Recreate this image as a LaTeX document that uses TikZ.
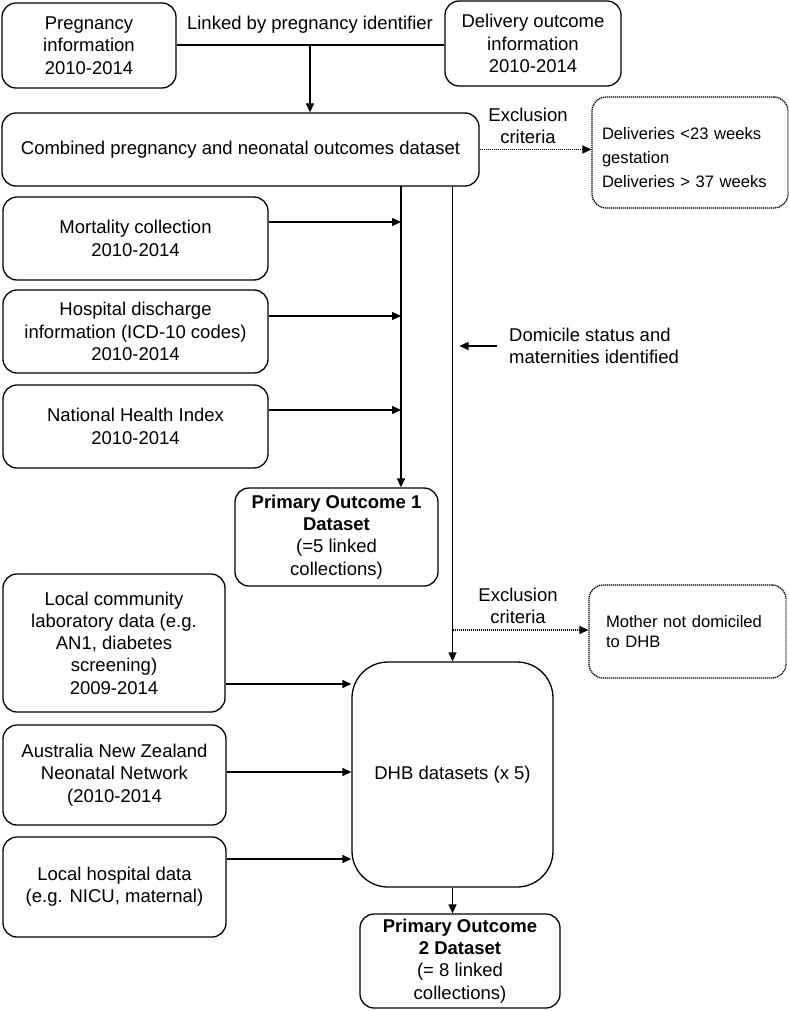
\documentclass[tikz,border=0pt]{standalone}
\usepackage{fontspec}
\setmainfont{Liberation Sans}
\usetikzlibrary{arrows.meta}
\begin{document}
\begin{tikzpicture}[x=1pt,y=-1pt,
  every node/.style={font=\fontsize{18.5}{22.3}\selectfont},
  box/.style={draw,line width=1.3pt,rounded corners=14pt,align=center,inner sep=0pt},
  dbox/.style={draw,line width=1.3pt,dash pattern=on 1.2pt off 0.8pt,rounded corners=14pt,align=left,inner sep=0pt},
  conn/.style={line width=1.3pt},
  arr/.style={line width=1.3pt,-{Triangle[length=9pt,width=8pt]}},
  darr/.style={line width=1.3pt,dash pattern=on 1.2pt off 0.8pt,-{Triangle[length=9pt,width=8pt]}},
  lbl/.style={align=center,inner sep=0pt}]
\useasboundingbox (0,0) rectangle (789,1011);
% boxes
\node[box,minimum width=174pt,minimum height=85pt] (preg) at (89,45.5) {Pregnancy\\information\\2010-2014};
\node[box,minimum width=176pt,minimum height=85pt] (deliv) at (533,43.5) {Delivery outcome\\information\\2010-2014};
\node[box,minimum width=477pt,minimum height=73pt] (comb) at (240.5,149.5) {Combined pregnancy and neonatal outcomes dataset};
\node[dbox,minimum width=196pt,minimum height=111pt,text width=176pt,font=\fontsize{16.6}{24}\selectfont] (excl1) at (690,152.5) {\rule{0pt}{22pt}Deliveries <23 weeks\\gestation\\Deliveries > 37 weeks};
\node[box,minimum width=265pt,minimum height=83pt] (mort) at (135.5,238.5) {Mortality collection\\2010-2014};
\node[box,minimum width=265pt,minimum height=83pt] (hosp) at (135.5,331.5) {Hospital discharge\\information (ICD-10 codes)\\2010-2014};
\node[box,minimum width=265pt,minimum height=83pt] (nhi) at (135.5,426.5) {National Health Index\\2010-2014};
\node[box,minimum width=203pt,minimum height=98pt] (po1) at (336.5,537) {\textbf{Primary Outcome 1}\\\textbf{Dataset}\\(=5 linked\\collections)};
\node[box,minimum width=222pt,minimum height=138pt] (local) at (114,643) {Local community\\laboratory data (e.g.\\AN1, diabetes\\screening)\\2009-2014};
\node[box,minimum width=223pt,minimum height=100pt] (aus) at (114.5,775) {Australia New Zealand\\Neonatal Network\\(2010-2014};
\node[box,minimum width=223pt,minimum height=100pt] (lhosp) at (114.5,887) {Local hospital data\\(e.g. NICU, maternal)};
\node[box,rounded corners=36pt,minimum width=201pt,minimum height=225pt] (dhb) at (452.5,774.5) {DHB datasets (x 5)};
\node[box,minimum width=200pt,minimum height=94pt] (po2) at (460,961) {\textbf{Primary Outcome}\\\textbf{2 Dataset}\\(= 8 linked\\collections)};
\node[dbox,minimum width=197pt,minimum height=93pt,text width=163pt,font=\fontsize{16.6}{20.5}\selectfont] (excl2) at (687.5,631.5) {Mother not domiciled\\to DHB};
% labels
\node[lbl] (linklbl) at (310,25) {Linked by pregnancy identifier};
\node[lbl] (exlbl1) at (528,126) {Exclusion\\criteria};
\node[lbl] (exlbl2) at (518,606) {Exclusion\\criteria};
\node[lbl,anchor=west,align=left] (domlbl) at (509,346) {Domicile status and\\maternities identified};
% connectors
\coordinate (j1) at (310,45);
\draw[conn] (preg.east |- j1) -- (deliv.west |- j1);
\draw[arr] (j1) -- (j1 |- comb.north);
\draw[darr] (comb.east) -- (excl1.west |- comb.east);
\coordinate (v1) at (401,186);
\draw[arr] (v1) -- (v1 |- po1.north);
\draw[arr] (mort.east |- 0,222) -- (v1 |- 0,222);
\draw[arr] (hosp.east |- 0,316) -- (v1 |- 0,316);
\draw[arr] (nhi.east |- 0,410) -- (v1 |- 0,410);
\draw[arr] (dhb.north |- comb.south) -- (dhb.north);
\coordinate (dom) at (497,346);
\draw[arr] (dom) -- ([xshift=7pt]dom -| dhb.north);
\draw[darr] (dhb.north |- 0,630) -- (excl2.west |- 0,630);
\draw[arr] (local.east |- 0,684) -- (dhb.west |- 0,684);
\draw[arr] (aus.east |- 0,772) -- (dhb.west |- 0,772);
\draw[arr] (lhosp.east |- 0,859) -- (dhb.west |- 0,859);
\draw[arr] (dhb.south) -- (dhb.south |- po2.north);
\end{tikzpicture}
\end{document}
